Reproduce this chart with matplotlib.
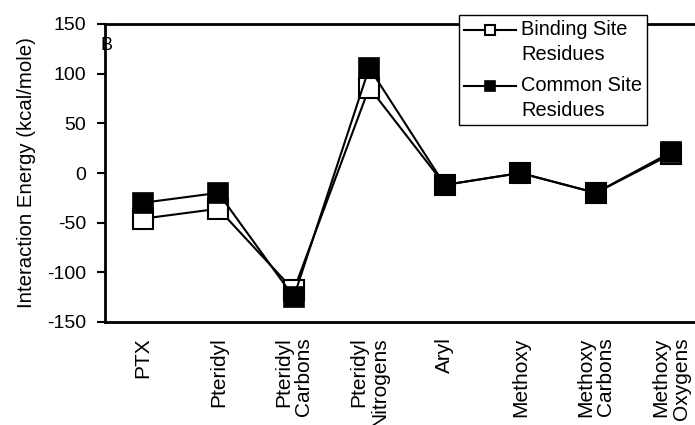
import matplotlib
matplotlib.use("Agg")
import matplotlib.pyplot as plt
from matplotlib.legend_handler import HandlerLine2D
from matplotlib.transforms import Affine2D

categories = ["PTX", "Pteridyl", "Pteridyl\nCarbons", "Pteridyl\nNitrogens", "Aryl",
              "Methoxy", "Methoxy\nCarbons", "Methoxy\nOxygens"]
binding_site = [-46, -36, -118, 86, -12, 0, -20, 19]
common_site = [-30, -20, -125, 106, -12, 0, -20, 21]
y_ticks = [-150, -100, -50, 0, 50, 100, 150]

plt.rcParams['font.family'] = ['Liberation Sans', 'DejaVu Sans']
plt.rcParams['axes.unicode_minus'] = False


class FirstLineHandler(HandlerLine2D):
    """Legend handle drawn level with the first line of a two-line label."""

    def __init__(self, shift_pt, **kw):
        super().__init__(**kw)
        self.shift_pt = shift_pt

    def create_artists(self, legend, orig_handle, xdescent, ydescent, width, height,
                       fontsize, trans):
        artists = super().create_artists(legend, orig_handle, xdescent, ydescent,
                                         width, height, fontsize, trans)
        shifted = Affine2D().translate(0, self.shift_pt) + trans
        for a in artists:
            a.set_transform(shifted)
        return artists


fig = plt.figure(figsize=(6.95, 4.25), dpi=100)
ax = fig.add_axes([105 / 695, 1 - 322 / 425, 604 / 695, 298 / 425])

x = list(range(len(categories)))
l1, = ax.plot(x, binding_site, color="black", lw=1.5, marker="s", ms=15,
              mfc="white", mec="black", mew=1.5, label="Binding Site\nResidues", zorder=3)
l2, = ax.plot(x, common_site, color="black", lw=1.5, marker="s", ms=15,
              mfc="black", mec="black", mew=1.2, label="Common Site\nResidues", zorder=4)

ax.set_xlim(-0.5, len(categories) - 0.5)
ax.set_ylim(-150, 150)
ax.set_yticks(y_ticks)
ax.set_xticks(x)
ax.set_xticklabels(categories, rotation=90, fontsize=15, va="top", ha="center",
                   multialignment="right", linespacing=1.1)
ax.tick_params(axis="x", length=0, pad=11)
ax.tick_params(axis="y", direction="out", length=5.5, width=1.5, labelsize=14, pad=8)

for side in ("left", "top", "bottom"):
    ax.spines[side].set_linewidth(2)
ax.spines["right"].set_visible(False)

ax.set_ylabel("Interaction Energy (kcal/mole)", fontsize=14.7, labelpad=8)
ax.text(-0.008, 0.928, "B", transform=ax.transAxes, fontsize=13, va="center", ha="left")

handler = FirstLineHandler(shift_pt=9)
leg = ax.legend(handles=[l1, l2], loc="upper left", bbox_to_anchor=(354 / 604, 1.031),
                fontsize=14.4, frameon=True, fancybox=False, edgecolor="black",
                framealpha=1, handlelength=2.6, handletextpad=0.25, borderpad=0.25,
                labelspacing=0.6, borderaxespad=0, markerscale=0.45,
                handler_map={l1: handler, l2: handler})
for t in leg.get_texts():
    t.set_linespacing(1.4)
leg.get_frame().set_linewidth(1)
leg.set_zorder(10)

fig.savefig("out.png", dpi=100)
